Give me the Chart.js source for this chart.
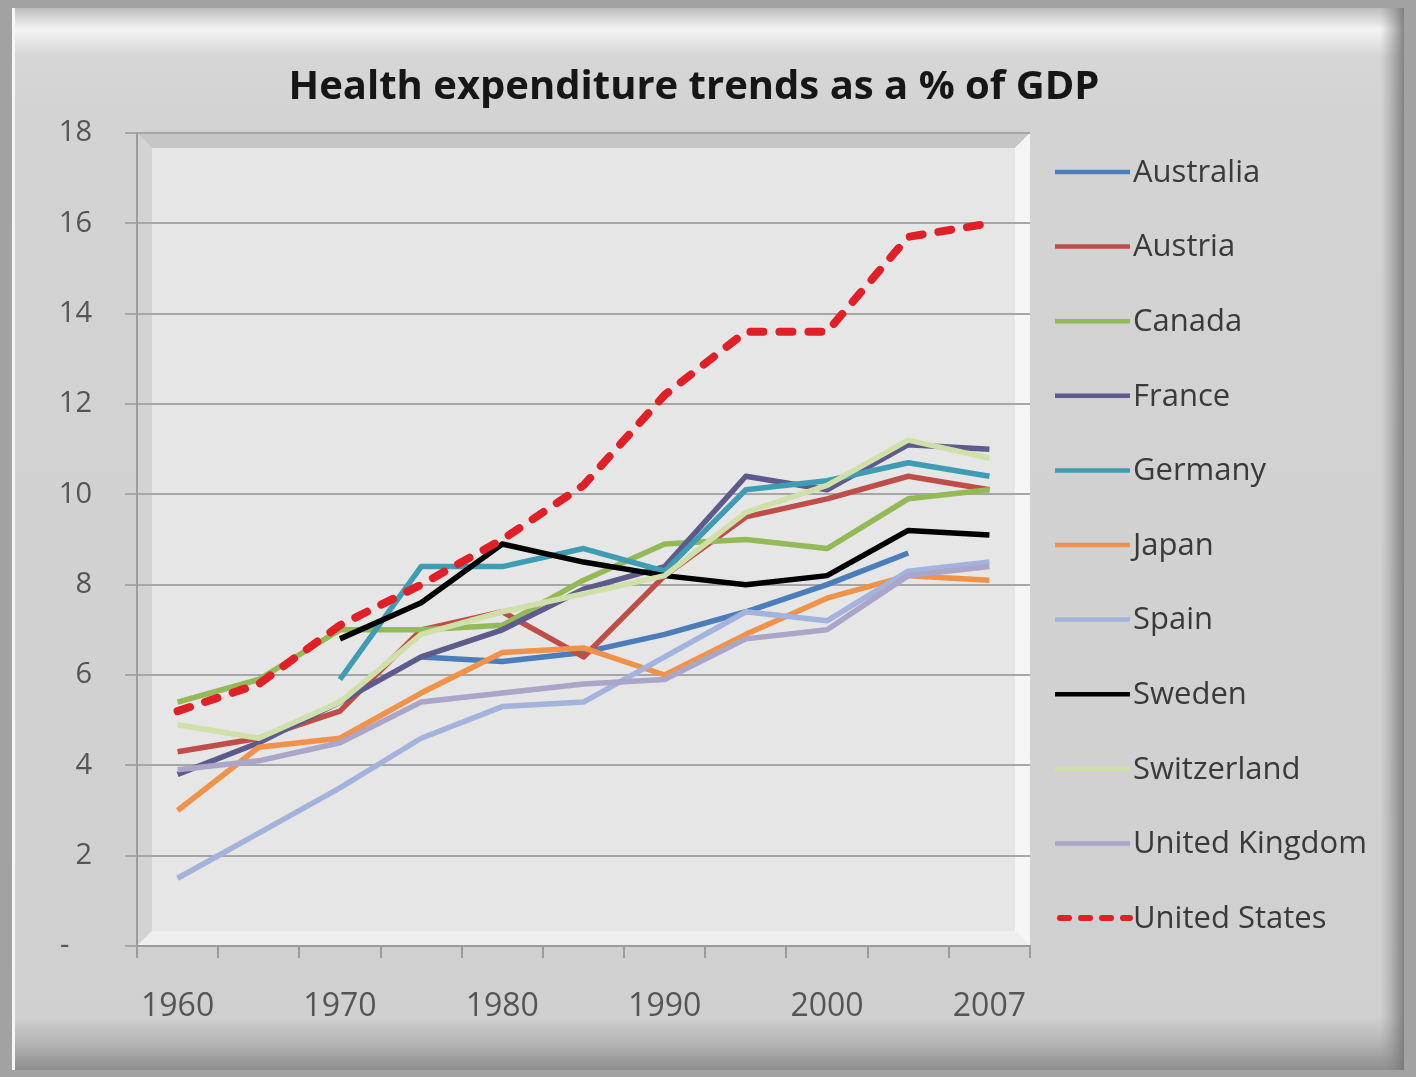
<!DOCTYPE html>
<html>
<head>
<meta charset="utf-8">
<script src="https://cdn.jsdelivr.net/npm/chart.js@4.4.1/dist/chart.umd.min.js"></script>
<style>
  html, body { margin: 0; padding: 0; background: #a2a2a2; overflow: hidden; }
</style>
</head>
<body>
<canvas id="healthChart" width="1416" height="1077"></canvas>
<script>
// % of GDP
const years = ['1960', '1965', '1970', '1975', '1980', '1985', '1990', '1995', '2000', '2005', '2007'];
const australia   = [null, null, null, 6.4, 6.3, 6.5, 6.9, 7.4, 8.0, 8.7, null];
const austria     = [4.3, 4.6, 5.2, 7.0, 7.4, 6.4, 8.2, 9.5, 9.9, 10.4, 10.1];
const canada      = [5.4, 5.9, 7.0, 7.0, 7.1, 8.1, 8.9, 9.0, 8.8, 9.9, 10.1];
const france      = [3.8, 4.5, 5.4, 6.4, 7.0, 7.9, 8.4, 10.4, 10.1, 11.1, 11.0];
const germany     = [null, null, 5.9, 8.4, 8.4, 8.8, 8.3, 10.1, 10.3, 10.7, 10.4];
const japan       = [3.0, 4.4, 4.6, 5.6, 6.5, 6.6, 6.0, 6.9, 7.7, 8.2, 8.1];
const spain       = [1.5, 2.5, 3.5, 4.6, 5.3, 5.4, 6.4, 7.4, 7.2, 8.3, 8.5];
const sweden      = [null, null, 6.8, 7.6, 8.9, 8.5, 8.2, 8.0, 8.2, 9.2, 9.1];
const switzerland = [4.9, 4.6, 5.4, 6.9, 7.4, 7.8, 8.2, 9.6, 10.2, 11.2, 10.8];
const uk          = [3.9, 4.1, 4.5, 5.4, 5.6, 5.8, 5.9, 6.8, 7.0, 8.2, 8.4];
const us          = [5.2, 5.8, 7.1, 8.0, 9.0, 10.2, 12.2, 13.6, 13.6, 15.7, 16.0];

const yTicks = [0, 2, 4, 6, 8, 10, 12, 14, 16, 18];

const series = [
  ['Australia', australia, '#4a7dba'],
  ['Austria', austria, '#bf4e4a'],
  ['Canada', canada, '#94b957'],
  ['France', france, '#5d5a8c'],
  ['Germany', germany, '#3e9db2'],
  ['Japan', japan, '#f0924a'],
  ['Spain', spain, '#a3b3dc'],
  ['Sweden', sweden, '#000000'],
  ['Switzerland', switzerland, '#cfe0a8'],
  ['United Kingdom', uk, '#aaa5c9'],
  ['United States', us, '#e01f26']
];

const datasets = series.map(([label, data, color], i) => {
  const isUS = label === 'United States';
  return {
    label,
    data,
    borderColor: color,
    backgroundColor: color,
    borderWidth: isUS ? 8 : 5.5,
    borderDash: isUS ? [13, 16] : [],
    borderCapStyle: isUS ? 'round' : 'butt',
    borderJoinStyle: 'round',
    pointRadius: 0,
    tension: 0,
    order: series.length - 1 - i
  };
});

// frame, plot-area bevel, title and legend (Excel look)
const excelFrame = {
  id: 'excelFrame',
  beforeDraw(chart) {
    const ctx = chart.ctx;
    const W = chart.width, H = chart.height;
    const a = chart.chartArea;
    ctx.save();
    ctx.fillStyle = '#a2a2a2';
    ctx.fillRect(0, 0, W, H);

    const g = ctx.createLinearGradient(0, 8, 0, 1070);
    g.addColorStop(0, '#bdbdbd');
    g.addColorStop(0.02, '#f4f4f4');
    g.addColorStop(0.045, '#d6d6d6');
    g.addColorStop(0.1, '#d3d3d3');
    g.addColorStop(0.95, '#d0d0d0');
    g.addColorStop(0.975, '#b4b4b4');
    g.addColorStop(1, '#8e8e8e');
    ctx.fillStyle = g;
    ctx.fillRect(14, 8, 1390, 1062);

    ctx.fillStyle = '#f6f6f6';
    ctx.fillRect(12, 8, 3, 1062);
    const r = ctx.createLinearGradient(1380, 0, 1404, 0);
    r.addColorStop(0, 'rgba(150,150,150,0)');
    r.addColorStop(1, 'rgba(120,120,120,0.9)');
    ctx.fillStyle = r;
    ctx.fillRect(1380, 8, 24, 1062);

    // recessed plot area
    ctx.fillStyle = '#e6e6e6';
    ctx.fillRect(a.left, a.top, a.right - a.left, a.bottom - a.top);
    const b = 15;
    ctx.fillStyle = '#c6c6c6';
    ctx.beginPath();
    ctx.moveTo(a.left, a.top); ctx.lineTo(a.right, a.top);
    ctx.lineTo(a.right - b, a.top + b); ctx.lineTo(a.left + b, a.top + b);
    ctx.closePath(); ctx.fill();
    ctx.fillStyle = '#d3d3d3';
    ctx.beginPath();
    ctx.moveTo(a.left, a.top); ctx.lineTo(a.left + b, a.top + b);
    ctx.lineTo(a.left + b, a.bottom - b); ctx.lineTo(a.left, a.bottom);
    ctx.closePath(); ctx.fill();
    ctx.fillStyle = '#f5f5f5';
    ctx.beginPath();
    ctx.moveTo(a.right, a.top); ctx.lineTo(a.right, a.bottom);
    ctx.lineTo(a.right - b, a.bottom - b); ctx.lineTo(a.right - b, a.top + b);
    ctx.closePath(); ctx.fill();
    ctx.fillStyle = '#efefef';
    ctx.beginPath();
    ctx.moveTo(a.left, a.bottom); ctx.lineTo(a.right, a.bottom);
    ctx.lineTo(a.right - b, a.bottom - b); ctx.lineTo(a.left + b, a.bottom - b);
    ctx.closePath(); ctx.fill();
    ctx.restore();
  },
  afterDraw(chart) {
    const ctx = chart.ctx;
    ctx.save();
    ctx.fillStyle = '#161616';
    ctx.font = 'bold 40px "Open Sans"';
    ctx.textAlign = 'center';
    ctx.textBaseline = 'middle';
    ctx.fillText('Health expenditure trends as a % of GDP', 694, 88);

    ctx.font = '31px "Open Sans"';
    ctx.textAlign = 'left';
    chart.data.datasets.forEach((ds, i) => {
      const y = 172 + i * 74.6;
      const dashed = ds.borderDash.length > 0;
      ctx.strokeStyle = ds.borderColor;
      ctx.lineWidth = dashed ? 6 : 4.5;
      ctx.lineCap = dashed ? 'round' : 'butt';
      ctx.setLineDash(dashed ? [9, 12] : []);
      ctx.beginPath();
      ctx.moveTo(dashed ? 1060 : 1055, y);
      ctx.lineTo(1130, y);
      ctx.stroke();
      ctx.setLineDash([]);
      ctx.fillStyle = '#3a3a3a';
      ctx.fillText(ds.label, 1133, y + 1);
    });
    ctx.restore();
  }
};

new Chart(document.getElementById('healthChart'), {
  type: 'line',
  data: { labels: years, datasets },
  options: {
    responsive: false,
    animation: false,
    layout: { padding: { left: 0, right: 386, top: 133, bottom: 61 } },
    plugins: {
      legend: { display: false },
      title: { display: false },
      tooltip: { enabled: false }
    },
    scales: {
      x: {
        offset: true,
        grid: { offset: true, drawOnChartArea: false, drawTicks: true, tickLength: 12, color: '#9c9c9c', lineWidth: 2 },
        border: { color: '#9c9c9c', width: 2 },
        ticks: {
          autoSkip: false,
          maxRotation: 0,
          padding: 30,
          color: '#555555',
          font: { family: 'Open Sans', size: 32 },
          callback: (v, i) => (i % 2 === 0 ? years[i] : '')
        },
        afterFit: (scale) => { scale.height = 70; }
      },
      y: {
        min: yTicks[0],
        max: yTicks[yTicks.length - 1],
        afterBuildTicks: (scale) => { scale.ticks = yTicks.map(v => ({ value: v })); },
        grid: { color: '#a6a6a6', lineWidth: 2, tickLength: 12 },
        border: { color: '#9c9c9c', width: 2 },
        ticks: {
          padding: 33,
          color: '#555555',
          font: { family: 'Open Sans', size: 29 },
          callback: (v) => (v === 0 ? '-   ' : v)
        },
        afterFit: (scale) => { scale.width = 137; }
      }
    }
  },
  plugins: [excelFrame]
});
</script>
</body>
</html>
